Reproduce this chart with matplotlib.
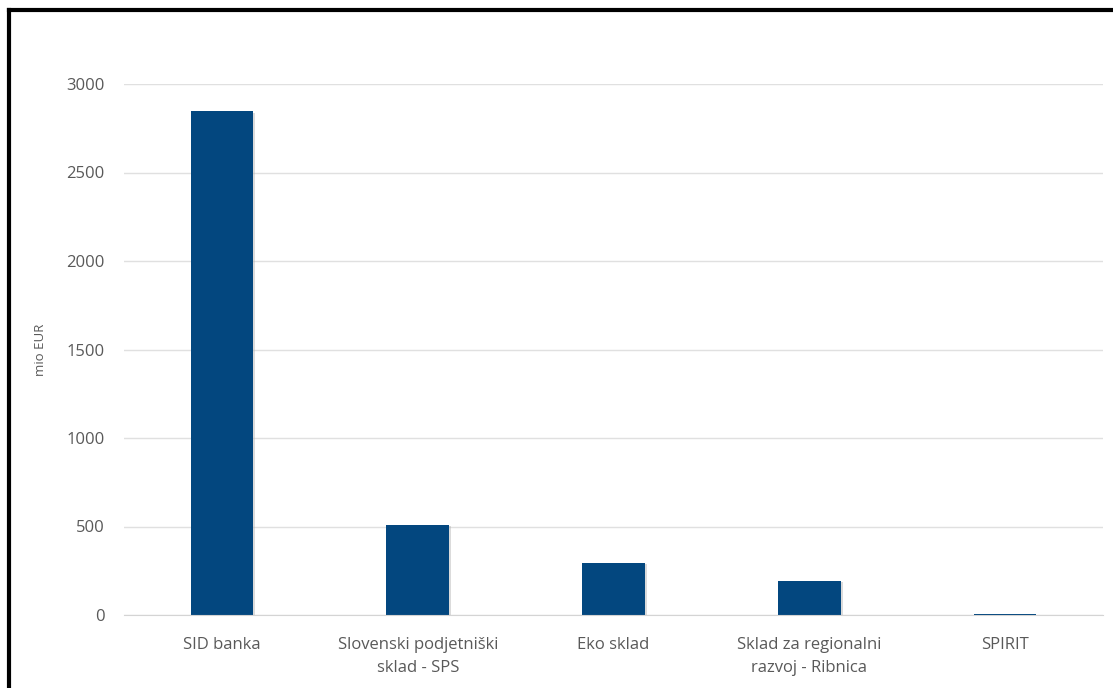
import matplotlib.pyplot as plt
from matplotlib.lines import Line2D

categories = ['SID banka', 'Slovenski podjetniški\nsklad - SPS', 'Eko sklad',
              'Sklad za regionalni\nrazvoj - Ribnica', 'SPIRIT']
values = [2845, 510, 295, 192, 5]
yticks = [0, 500, 1000, 1500, 2000, 2500, 3000]

plt.rcParams['font.family'] = ['Open Sans', 'DejaVu Sans']

fig = plt.figure(figsize=(11.13, 6.88), dpi=100)
ax = fig.add_axes([124 / 1113, 1 - 615 / 688, 979 / 1113, 531 / 688])

x = list(range(len(categories)))
# soft shadow behind the bars
ax.bar([i + 0.01 for i in x], [v - 8 for v in values], width=0.32, color='#b0b0b0', alpha=0.45, zorder=2)
ax.bar(x, values, width=0.32, color='#03477f', zorder=3)

ax.set_xlim(-0.5, len(categories) - 0.5)
ax.set_ylim(0, 3000)
ax.set_yticks(yticks)
ax.set_xticks(x)
ax.set_xticklabels(categories, fontsize=12, color='#595959', linespacing=1.55)
ax.tick_params(axis='y', labelsize=12, labelcolor='#595959', length=0, pad=14)
ax.tick_params(axis='x', length=0, pad=16)
ax.grid(axis='y', color='#e0e0e0', linewidth=1, zorder=0)
for s in ['top', 'right', 'left']:
    ax.spines[s].set_visible(False)
ax.spines['bottom'].set_color('#d4d4d4')
ax.spines['bottom'].set_zorder(4)
ax.set_ylabel('mio EUR', fontsize=9.5, color='#595959', labelpad=14)

# black frame (left and top edges visible in the crop)
fig.add_artist(Line2D([9 / 1113, 9 / 1113], [0, 1 - 10 / 688], color='black', linewidth=3, transform=fig.transFigure))
fig.add_artist(Line2D([9 / 1113, 1], [1 - 10 / 688, 1 - 10 / 688], color='black', linewidth=3, transform=fig.transFigure))

fig.savefig('out.png', dpi=100)
